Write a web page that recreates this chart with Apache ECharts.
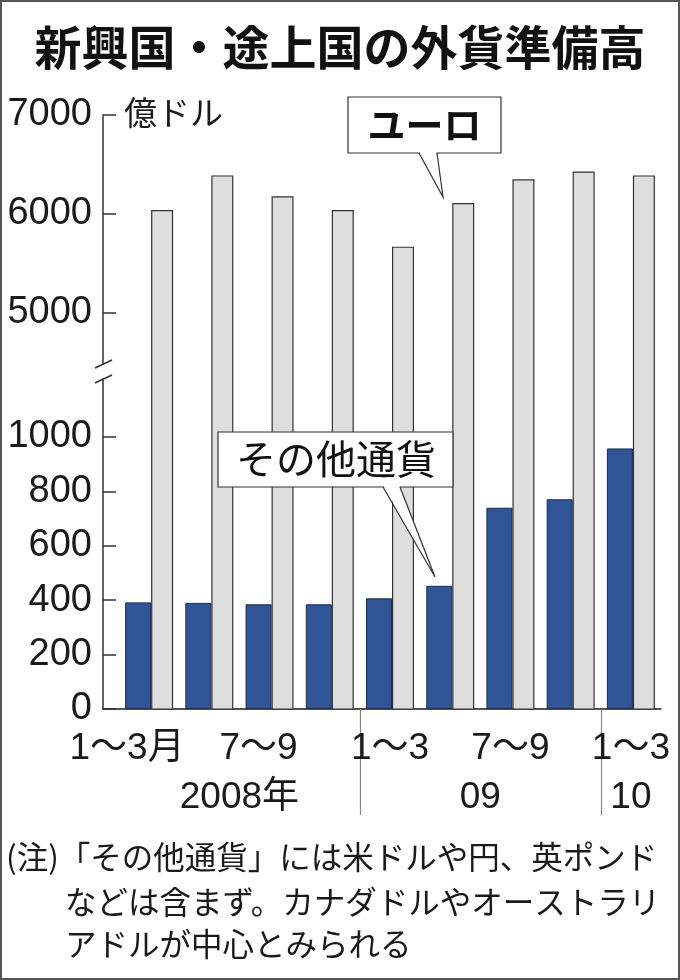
<!DOCTYPE html>
<html><head><meta charset="utf-8">
<script src="https://cdn.jsdelivr.net/npm/echarts@6/dist/echarts.min.js"></script>
<style>html,body{margin:0;padding:0;background:#fff}#c{width:680px;height:980px}</style>
</head><body><div id="c"></div>
<script>
// ---- data ----
const categories = ['1〜3月', '', '7〜9', '', '1〜3', '', '7〜9', '', '1〜3'];
const euro = [6040, 6390, 6180, 6040, 5670, 6110, 6350, 6430, 6390];
const otherCurrencies = [392, 390, 385, 385, 407, 453, 740, 771, 958];
const yearLabels = ['', '', '', '', '2008年', '', '', '', '', '', '', '', '09', '', '', '', '', '10', ''];
const yearDividerIdx = [8, 16];
const upperTicks = [5000, 6000, 7000];
const lowerTicks = [0, 200, 400, 600, 800, 1000];

// ---- layout constants ----
const Y_TOP = 115, Y_BASE = 709;
const S_UP = 0.099;   // px per unit (upper scale)
const S_LO = 0.272;   // px per unit (lower scale)
const UP_MAX = 7000;
const BRK_TOP = 364, BRK_BOT = 379;
const AXIS_X = 103, PLOT_L = 119, PLOT_R = 661;
const W = 680, H = 980;

const NUM = '"Liberation Sans Narrow","Liberation Sans","Noto Sans CJK JP",sans-serif';
const JP = '"Noto Sans CJK JP",sans-serif';
const INK = '#1a1a1a';

const mainMinGray = UP_MAX - (Y_BASE - Y_TOP) / S_UP;
const mainMaxBlue = (Y_BASE - Y_TOP) / S_LO;
const dispUpMin = UP_MAX - (BRK_TOP - Y_TOP) / S_UP;
const dispLoMax = (Y_BASE - BRK_BOT) / S_LO;

const chart = echarts.init(document.getElementById('c'), null, {renderer: 'canvas'});

const catData = categories.map((c, i) => {
  if (i < 4 && c) return {value: c, textStyle: {padding: [0, i === 0 ? 44 : 22, 0, 0]}};
  return c;
});
const plain = (v) => String(Math.round(v));

const option = {
  animation: false,
  backgroundColor: '#fff',
  grid: [
    {left: PLOT_L, right: W - PLOT_R, top: Y_TOP, bottom: H - Y_BASE},
    {left: AXIS_X, right: W - PLOT_R, top: Y_TOP, bottom: H - BRK_TOP},
    {left: AXIS_X, right: W - PLOT_R, top: BRK_BOT, bottom: H - Y_BASE}
  ],
  xAxis: [
    {gridIndex: 0, type: 'category', data: catData,
     axisLine: {show: false}, axisTick: {show: false},
     axisLabel: {interval: 0, margin: 21, fontFamily: NUM, fontSize: 37, color: INK}},
    {gridIndex: 0, type: 'category', data: yearLabels, boundaryGap: false, position: 'bottom',
     axisLine: {show: false},
     axisTick: {show: true, interval: (i) => yearDividerIdx.includes(i), length: 106,
                lineStyle: {color: '#888', width: 1.2}},
     axisLabel: {interval: 0, margin: 70, fontFamily: NUM, fontSize: 37, color: INK}},
    {gridIndex: 1, type: 'value', show: false, min: 0, max: 1},
    {gridIndex: 2, type: 'value', min: 0, max: 1,
     axisLine: {show: true, lineStyle: {color: INK, width: 1.5}},
     axisTick: {show: false}, axisLabel: {show: false}, splitLine: {show: false}}
  ],
  yAxis: [
    {gridIndex: 0, type: 'value', show: false, min: mainMinGray, max: UP_MAX},
    {gridIndex: 0, type: 'value', show: false, min: 0, max: mainMaxBlue},
    {gridIndex: 1, type: 'value', min: dispUpMin, max: UP_MAX,
     axisLine: {show: true, lineStyle: {color: '#333', width: 1.5}},
     axisTick: {show: true, inside: true, length: 13, customValues: upperTicks, lineStyle: {color: '#333', width: 1.5}},
     axisLabel: {customValues: upperTicks, formatter: plain, margin: 11, fontFamily: NUM, fontSize: 38, color: INK},
     splitLine: {show: false}},
    {gridIndex: 2, type: 'value', min: 0, max: dispLoMax,
     axisLine: {show: true, lineStyle: {color: '#333', width: 1.5}},
     axisTick: {show: true, inside: true, length: 13, customValues: lowerTicks, lineStyle: {color: '#333', width: 1.5}},
     axisLabel: {customValues: lowerTicks, formatter: plain, margin: 11, fontFamily: NUM, fontSize: 38, color: INK},
     splitLine: {show: false}}
  ],
  series: [
    {name: 'その他通貨', type: 'bar', xAxisIndex: 0, yAxisIndex: 1, data: otherCurrencies,
     barWidth: 26, barGap: 0,
     itemStyle: {color: '#2f5597', borderColor: '#1b2d52', borderWidth: 1}},
    {name: 'ユーロ', type: 'bar', xAxisIndex: 0, yAxisIndex: 0, data: euro,
     barWidth: 22, barGap: 0,
     itemStyle: {color: '#dedede', borderColor: '#333', borderWidth: 1.2}}
  ],
  graphic: [
    {type: 'rect', z: 200, silent: true, shape: {x: 1, y: 1, width: W - 2, height: H - 2},
     style: {fill: 'none', stroke: '#555', lineWidth: 2}},
    {type: 'text', z: 100, x: 340, y: 47, style: {text: '新興国・途上国の外貨準備高', fontFamily: JP,
      fontSize: 47, fontWeight: 'bold', fill: '#111', align: 'center', verticalAlign: 'middle'}},
    {type: 'text', z: 100, x: 124, y: 112, style: {text: '億ドル', fontFamily: JP,
      fontSize: 33, fill: INK, align: 'left', verticalAlign: 'middle'}},
    // break marks
    {type: 'line', z: 100, shape: {x1: AXIS_X - 8, y1: BRK_TOP + 4, x2: AXIS_X + 9, y2: BRK_TOP - 4},
     style: {stroke: '#333', lineWidth: 1.5}},
    {type: 'line', z: 100, shape: {x1: AXIS_X - 8, y1: BRK_BOT + 4, x2: AXIS_X + 9, y2: BRK_BOT - 4},
     style: {stroke: '#333', lineWidth: 1.5}},
    // callout: ユーロ
    {type: 'rect', z: 100, shape: {x: 348, y: 97, width: 153, height: 56},
     style: {fill: '#fff', stroke: '#333', lineWidth: 1.2}},
    {type: 'polygon', z: 101, shape: {points: [[419.6, 152], [443, 197], [436.4, 152]]},
     style: {fill: '#fff', stroke: null}},
    {type: 'polyline', z: 102, shape: {points: [[419, 153], [443, 197], [437, 153]]},
     style: {fill: null, stroke: '#333', lineWidth: 1.2}},
    {type: 'text', z: 103, x: 424.5, y: 125, style: {text: 'ユーロ', fontFamily: JP,
      fontSize: 38, fontWeight: 'bold', fill: '#111', align: 'center', verticalAlign: 'middle'}},
    // callout: その他通貨
    {type: 'rect', z: 100, shape: {x: 218, y: 432, width: 235, height: 55},
     style: {fill: '#fff', stroke: '#333', lineWidth: 1.2}},
    {type: 'polygon', z: 101, shape: {points: [[383.6, 486], [435, 577], [399.4, 486]]},
     style: {fill: '#fff', stroke: null}},
    {type: 'polyline', z: 102, shape: {points: [[383, 487], [435, 577], [400, 487]]},
     style: {fill: null, stroke: '#333', lineWidth: 1.2}},
    {type: 'text', z: 103, x: 336, y: 459, style: {text: 'その他通貨', fontFamily: JP,
      fontSize: 40, fill: '#111', align: 'center', verticalAlign: 'middle'}},
    // note
    {type: 'text', z: 100, x: 6, y: 857, style: {text: '(注)「その他通貨」には米ドルや円、英ポンド',
      fontFamily: JP, fontSize: 31.5, fill: INK, align: 'left', verticalAlign: 'middle'}},
    {type: 'text', z: 100, x: 65, y: 902, style: {text: 'などは含まず。カナダドルやオーストラリ',
      fontFamily: JP, fontSize: 31.5, fill: INK, align: 'left', verticalAlign: 'middle'}},
    {type: 'text', z: 100, x: 65, y: 944, style: {text: 'アドルが中心とみられる',
      fontFamily: JP, fontSize: 31.5, fill: INK, align: 'left', verticalAlign: 'middle'}}
  ]
};
chart.setOption(option);
</script></body></html>
